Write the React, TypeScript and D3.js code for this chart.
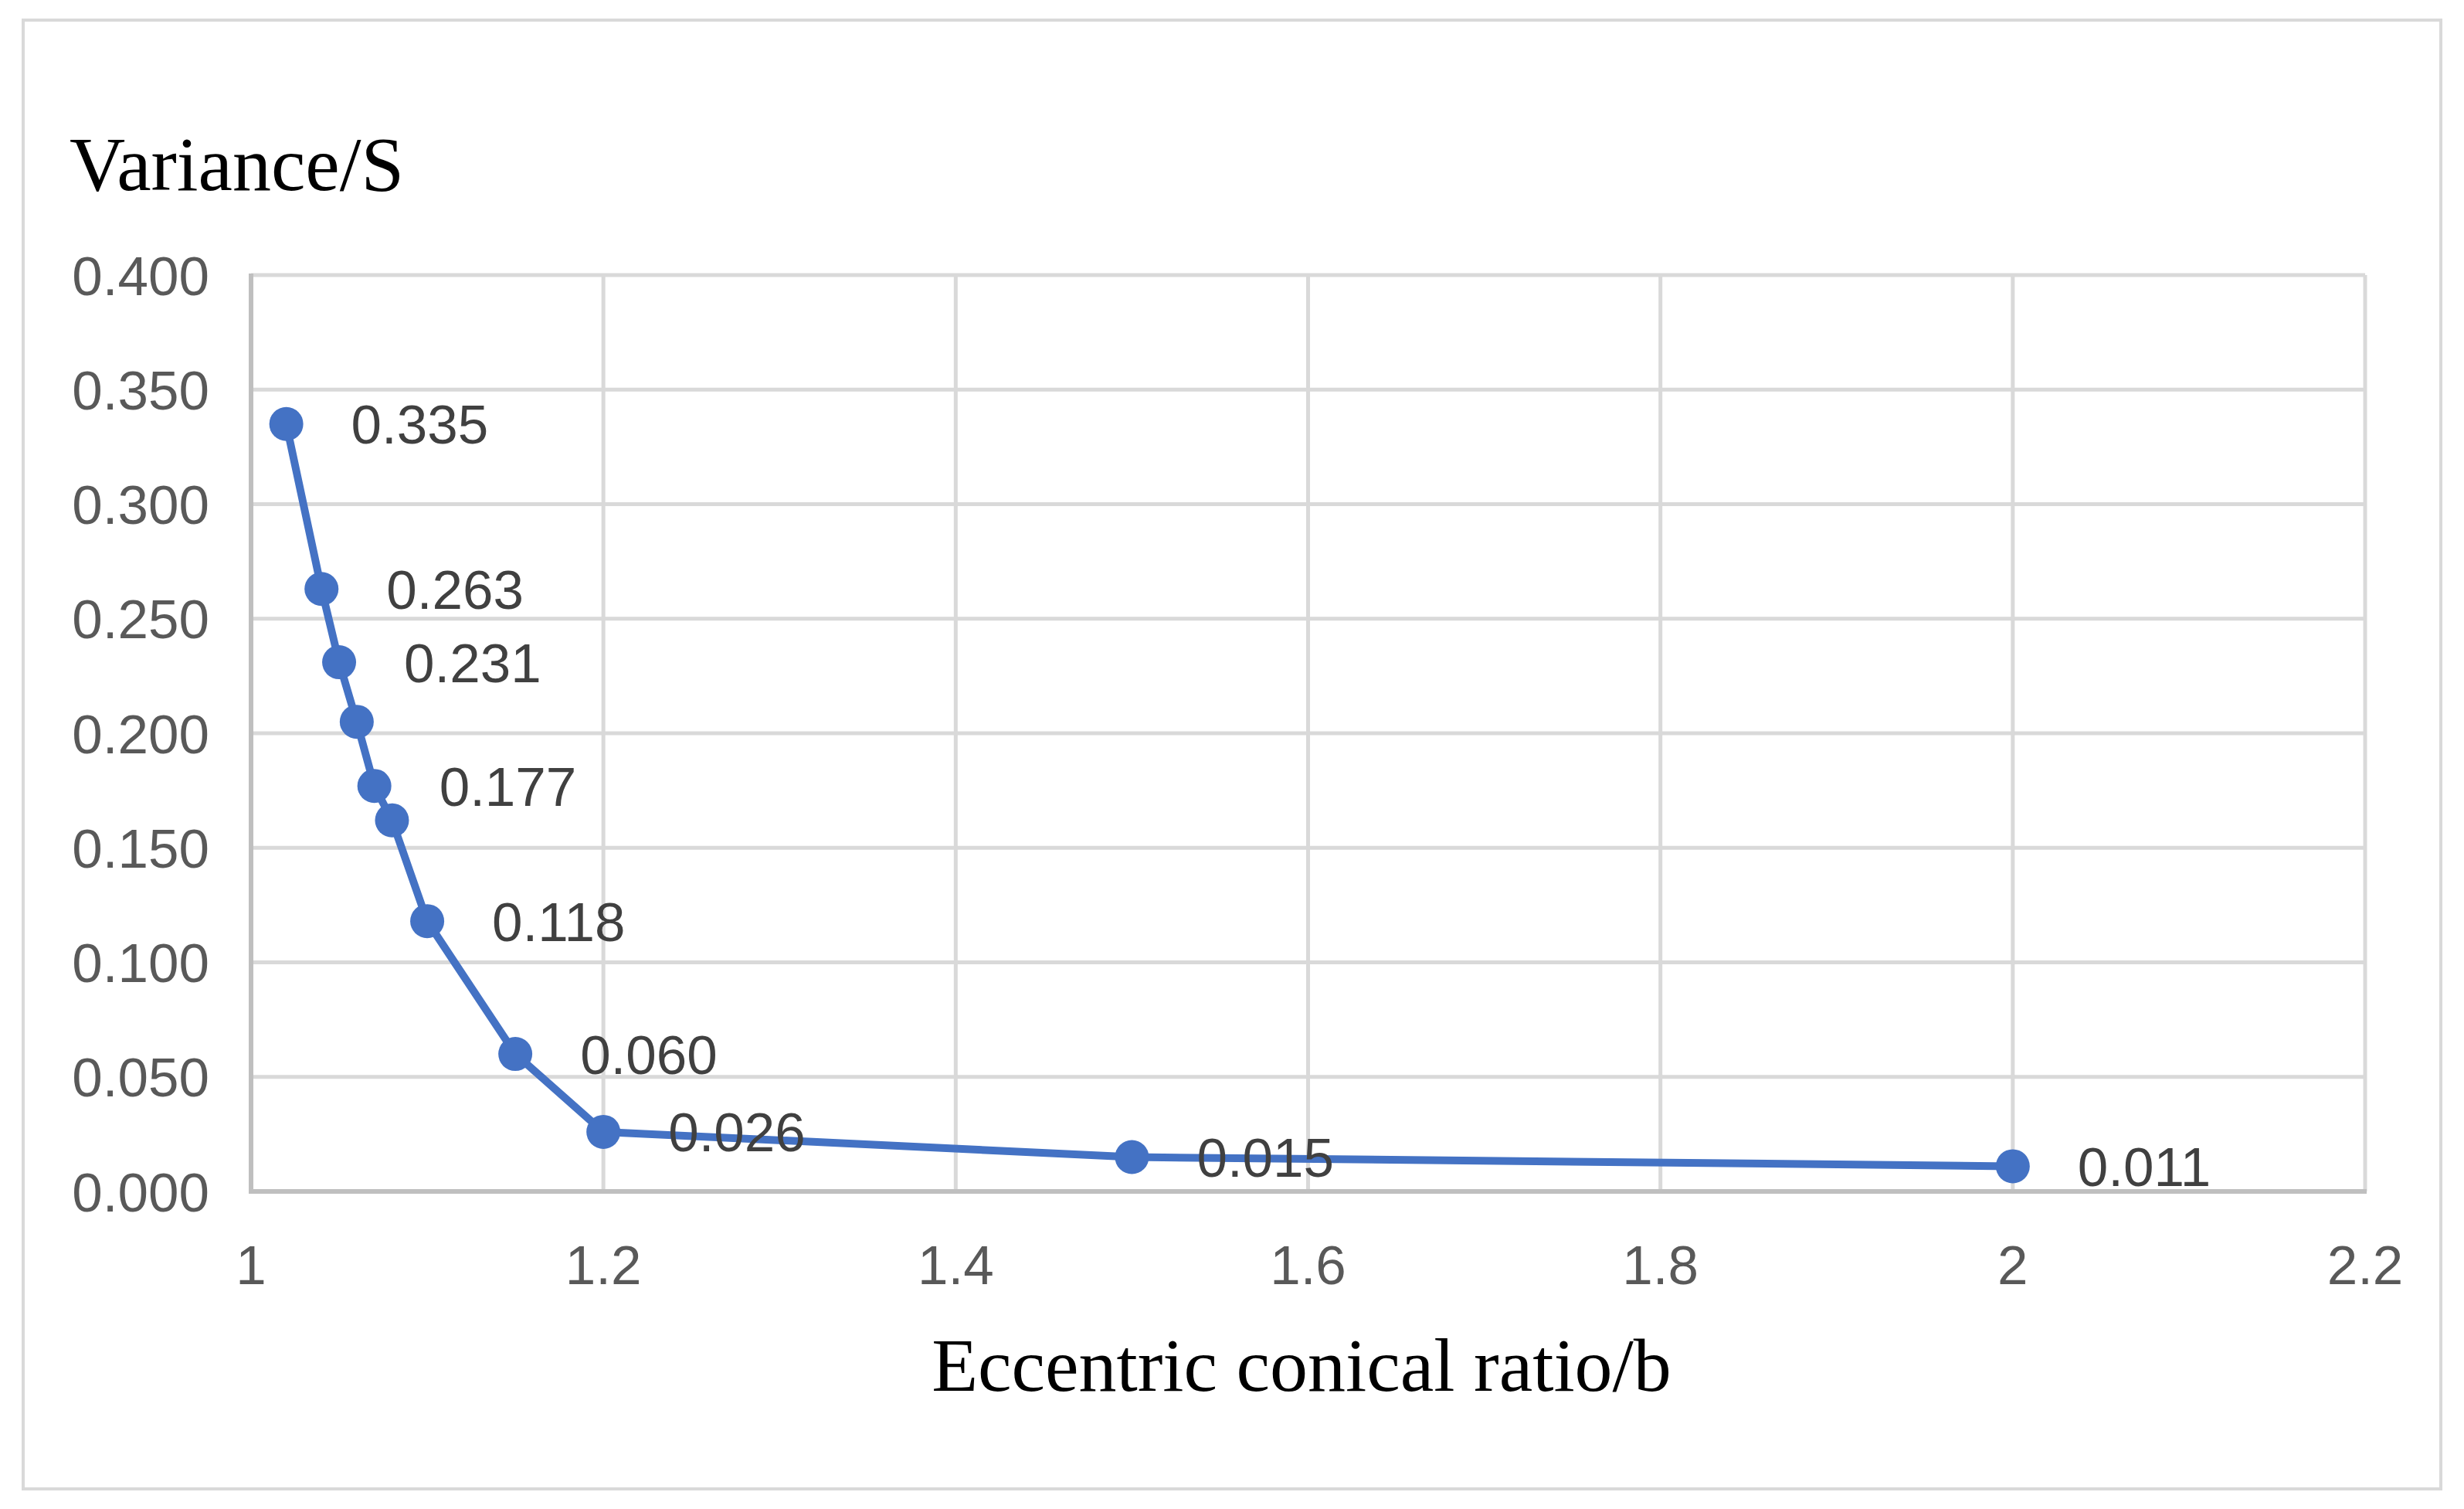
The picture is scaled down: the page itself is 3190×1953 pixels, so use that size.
import React from "react";
import * as d3 from "d3";

const ratios = [1.02, 1.04, 1.05, 1.06, 1.07, 1.08, 1.1, 1.15, 1.2, 1.5, 2];
const variances = [0.335, 0.263, 0.231, 0.205, 0.177, 0.162, 0.118, 0.06, 0.026, 0.015, 0.011];
const showLabel = [true, true, true, false, true, false, true, true, true, true, true];
const xTicks = [1, 1.2, 1.4, 1.6, 1.8, 2, 2.2];
const yTicks = [0, 0.05, 0.1, 0.15, 0.2, 0.25, 0.3, 0.35, 0.4];
const xTitle = "Eccentric conical ratio/b";
const yTitle = "Variance/S";

const W = 3190;
const H = 1953;
const plot = { left: 325, right: 3062, top: 356, bottom: 1542 };

export default function App() {
  const x = d3.scaleLinear().domain([1, 2.2]).range([plot.left, plot.right]);
  const y = d3.scaleLinear().domain([0, 0.4]).range([plot.bottom, plot.top]);
  const data = ratios.map((r, i) => ({ r, v: variances[i], lab: showLabel[i] }));
  const line = d3
    .line<{ r: number; v: number }>()
    .x((d) => x(d.r))
    .y((d) => y(d.v));
  const tickFont = "'Liberation Sans', Arial, sans-serif";
  const titleFont = "'Liberation Serif', 'Times New Roman', serif";
  return (
    <>
      <style>{"body{margin:0}"}</style>
      <svg
        width={W}
        height={H}
        style={{ position: "absolute", left: 0, top: 0, background: "#fff" }}
      >
        <rect x={0} y={0} width={W} height={H} fill="#fff" />
        <rect x={30} y={26} width={3130} height={1901} fill="none" stroke="#d9d9d9" strokeWidth={4} />
        {yTicks.slice(1).map((t) => (
          <line key={"gy" + t} x1={plot.left} x2={plot.right} y1={y(t)} y2={y(t)} stroke="#d9d9d9" strokeWidth={5} />
        ))}
        {xTicks.slice(1).map((t) => (
          <line key={"gx" + t} x1={x(t)} x2={x(t)} y1={plot.top} y2={plot.bottom} stroke="#d9d9d9" strokeWidth={5} />
        ))}
        <line x1={plot.left} x2={plot.left} y1={plot.top - 2} y2={plot.bottom} stroke="#bfbfbf" strokeWidth={6} />
        <line x1={plot.left - 3} x2={plot.right + 2} y1={plot.bottom} y2={plot.bottom} stroke="#bfbfbf" strokeWidth={6} />
        {yTicks.map((t) => (
          <text
            key={"ty" + t}
            x={271}
            y={y(t)}
            dy="0.36em"
            textAnchor="end"
            fontFamily={tickFont}
            fontSize={71}
            fill="#595959"
          >
            {d3.format(".3f")(t)}
          </text>
        ))}
        {xTicks.map((t) => (
          <text
            key={"tx" + t}
            x={x(t)}
            y={1662}
            textAnchor="middle"
            fontFamily={tickFont}
            fontSize={71}
            fill="#595959"
          >
            {String(t)}
          </text>
        ))}
        <path d={line(data) || ""} fill="none" stroke="#4472C4" strokeWidth={10} strokeLinejoin="round" />
        {data.map((d, i) => (
          <circle key={"c" + i} cx={x(d.r)} cy={y(d.v)} r={22} fill="#4472C4" />
        ))}
        {data.map((d, i) =>
          d.lab ? (
            <text
              key={"l" + i}
              x={x(d.r) + 84}
              y={y(d.v)}
              dy="0.36em"
              fontFamily={tickFont}
              fontSize={71}
              fill="#404040"
            >
              {d3.format(".3f")(d.v)}
            </text>
          ) : null
        )}
        <text x={90} y={246} fontFamily={titleFont} fontSize={100} fill="#000">
          {yTitle}
        </text>
        <text x={1685} y={1800} textAnchor="middle" fontFamily={titleFont} fontSize={98} fill="#000">
          {xTitle}
        </text>
      </svg>
    </>
  );
}
